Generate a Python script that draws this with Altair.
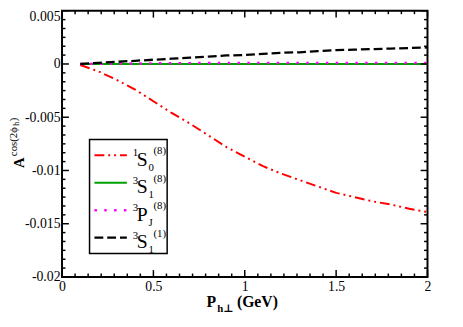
import altair as alt
import pandas as pd

# ---- data ----
pt = [0.1, 0.2, 0.3, 0.4, 0.5, 0.6, 0.7, 0.8, 0.9, 1.0,
      1.1, 1.2, 1.3, 1.4, 1.5, 1.6, 1.7, 1.8, 1.9, 2.0]
s0_8 = [-0.0001, -0.0007, -0.0015, -0.0024, -0.0035, -0.0046, -0.0056, -0.0067, -0.0078, -0.0087,
        -0.0096, -0.0103, -0.0109, -0.0115, -0.0121, -0.0125, -0.0129, -0.0132, -0.0136, -0.0139]
s1_8 = [0.0, 0.0, 0.0, 0.0, 0.0, 0.0, 0.0, 0.0, 0.0, 0.0,
        0.0, 0.0, 0.0, 0.0, 0.0, 0.0, 0.0, 0.0, 0.0, 0.0]
pj_8 = [0.0, 0.00002, 0.00004, 0.00005, 0.00006, 0.00007, 0.00008, 0.00009, 0.0001, 0.0001,
        0.0001, 0.0001, 0.0001, 0.0001, 0.0001, 0.0001, 0.0001, 0.0001, 0.0001, 0.0001]
s1_1 = [0.0, 0.0001, 0.0002, 0.0003, 0.0004, 0.0005, 0.0006, 0.0007, 0.0008, 0.00085,
        0.00095, 0.00105, 0.0011, 0.0012, 0.0013, 0.00135, 0.0014, 0.00145, 0.0015, 0.00155]

x_major = [0, 0.5, 1, 1.5, 2]
y_major = [-0.02, -0.015, -0.01, -0.005, 0, 0.005]
x_minor = [i * 0.5 / 7 for i in range(29) if i % 7]
y_minor = [-0.02 + i * 0.005 / 6 for i in range(31) if i % 6]

FONT = "Liberation Serif, Times New Roman, DejaVu Serif, serif"
W, H = 372, 271

df = pd.DataFrame({"x": pt, "s0": s0_8, "s1": s1_8, "pj": pj_8, "s11": s1_1})

xs = alt.Scale(domain=[0, 2], nice=False, zero=False)
ys = alt.Scale(domain=[-0.02, 0.005], nice=False, zero=False)

xaxis = alt.Axis(values=x_major, ticks=False, domain=False, grid=False, labelFont=FONT,
                 labelFontSize=14, labelColor="black", labelPadding=3, labelFlush=False,
                 labelOverlap=False, title=None, format="~g")
yaxis = alt.Axis(values=y_major, ticks=False, domain=False, grid=False, labelFont=FONT,
                 labelFontSize=14, labelColor="black", labelPadding=2, labelFlush=False,
                 labelOverlap=False, title=None,
                 labelBaseline={"condition": {"test": "datum.value > 0.004", "value": "top"},
                                "value": "middle"},
                 labelOffset={"condition": {"test": "datum.value > 0.004", "value": -1},
                              "value": 0},
                 labelExpr="datum.value == 0 ? '0' : replace(format(datum.value, '.3~f'), '−', '-')")


def X(field):
    return alt.X(field, type="quantitative", scale=xs, axis=xaxis)


def Y(field):
    return alt.Y(field, type="quantitative", scale=ys, axis=yaxis)


def one():
    return alt.Data(values=[{"k": 1}])


layers = []

# ---- curves ----
layers.append(alt.Chart(df).mark_line(color="#00a000", strokeWidth=2).encode(x=X("x"), y=Y("s1")))
layers.append(alt.Chart(df).mark_line(color="#ff0000", strokeWidth=2,
                                      strokeDash=[10, 4, 2, 4, 2, 4]).encode(x=X("x"), y=Y("s0")))
layers.append(alt.Chart(df).mark_line(color="#ff00ff", strokeWidth=2.5,
                                      strokeDash=[2.5, 7.5]).encode(x=X("x"), y=Y("pj")))
layers.append(alt.Chart(df).mark_line(color="black", strokeWidth=2.3,
                                      strokeDash=[9, 4]).encode(x=X("x"), y=Y("s11")))

# ---- inward ticks on all four sides ----
tx_major = pd.DataFrame({"v": x_major})
tx_minor = pd.DataFrame({"v": x_minor})
ty_major = pd.DataFrame({"v": y_major})
ty_minor = pd.DataFrame({"v": y_minor})
for d, ln in [(tx_major, 7), (tx_minor, 3.5)]:
    layers.append(alt.Chart(d).mark_rule(color="black", strokeWidth=1.5).encode(
        x=X("v"), y=alt.value(H), y2=alt.value(H - ln)))
    layers.append(alt.Chart(d).mark_rule(color="black", strokeWidth=1.5).encode(
        x=X("v"), y=alt.value(0), y2=alt.value(ln)))
for d, ln in [(ty_major, 7), (ty_minor, 3.5)]:
    layers.append(alt.Chart(d).mark_rule(color="black", strokeWidth=1.5).encode(
        y=Y("v"), x=alt.value(0), x2=alt.value(ln)))
    layers.append(alt.Chart(d).mark_rule(color="black", strokeWidth=1.5).encode(
        y=Y("v"), x=alt.value(W), x2=alt.value(W - ln)))


def txt(s, x, y, size, bold=False, angle=0, align="left", baseline="alphabetic"):
    return alt.Chart(one()).mark_text(
        text=s, font=FONT, fontSize=size, fontWeight="bold" if bold else "normal",
        angle=angle, align=align, baseline=baseline, color="black"
    ).encode(x=alt.value(x), y=alt.value(y))


# ---- legend (drawn by hand) ----
layers.append(alt.Chart(one()).mark_rect(fill="white", stroke="black", strokeWidth=1.5).encode(
    x=alt.value(28), x2=alt.value(107), y=alt.value(131), y2=alt.value(247)))

leg = [
    ("#ff0000", [10, 4, 2, 4, 2, 4], 2, "1", "S", "0", "(8)"),
    ("#00a000", [1, 0], 2, "3", "S", "1", "(8)"),
    ("#ff00ff", [2.5, 7.5], 2.5, "3", "P", "J", "(8)"),
    ("black", [9, 4], 2.3, "3", "S", "1", "(1)"),
]
for i, (col, dash, sw, pre, main, sub, sup) in enumerate(leg):
    yl = 147 + 28 * i
    layers.append(alt.Chart(one()).mark_rule(color=col, strokeDash=dash, strokeWidth=sw).encode(
        x=alt.value(33), x2=alt.value(66), y=alt.value(yl)))
    layers.append(txt(pre, 72, yl + 1, 11))
    layers.append(txt(main, 76, yl + 11, 20))
    layers.append(txt(sub, 88, yl + 16, 11))
    layers.append(txt(sup, 93, yl - 1, 11))

# ---- axis titles (drawn by hand for sub/superscripts) ----
layers.append(txt("P", 147, 302, 16, bold=True))
layers.append(txt("h⊥", 158, 307, 11, bold=True))
layers.append(txt("(GeV)", 178, 302, 16, bold=True))

layers.append(txt("A", -39, 160, 15, bold=True, angle=270))
layers.append(txt("cos(2ϕ", -45.5, 148, 11, angle=270))
layers.append(txt("h", -43.5, 117, 8, angle=270))
layers.append(txt(")", -45.5, 112.5, 11, angle=270))

chart = alt.layer(*layers).properties(
    width=W, height=H,
    autosize=alt.AutoSizeParams(type="none"),
    padding={"left": 55, "top": 0, "right": 28, "bottom": 40},
).configure_view(stroke="black", strokeWidth=2)

chart.save("out.html", embed_options={"renderer": "svg", "actions": False})
